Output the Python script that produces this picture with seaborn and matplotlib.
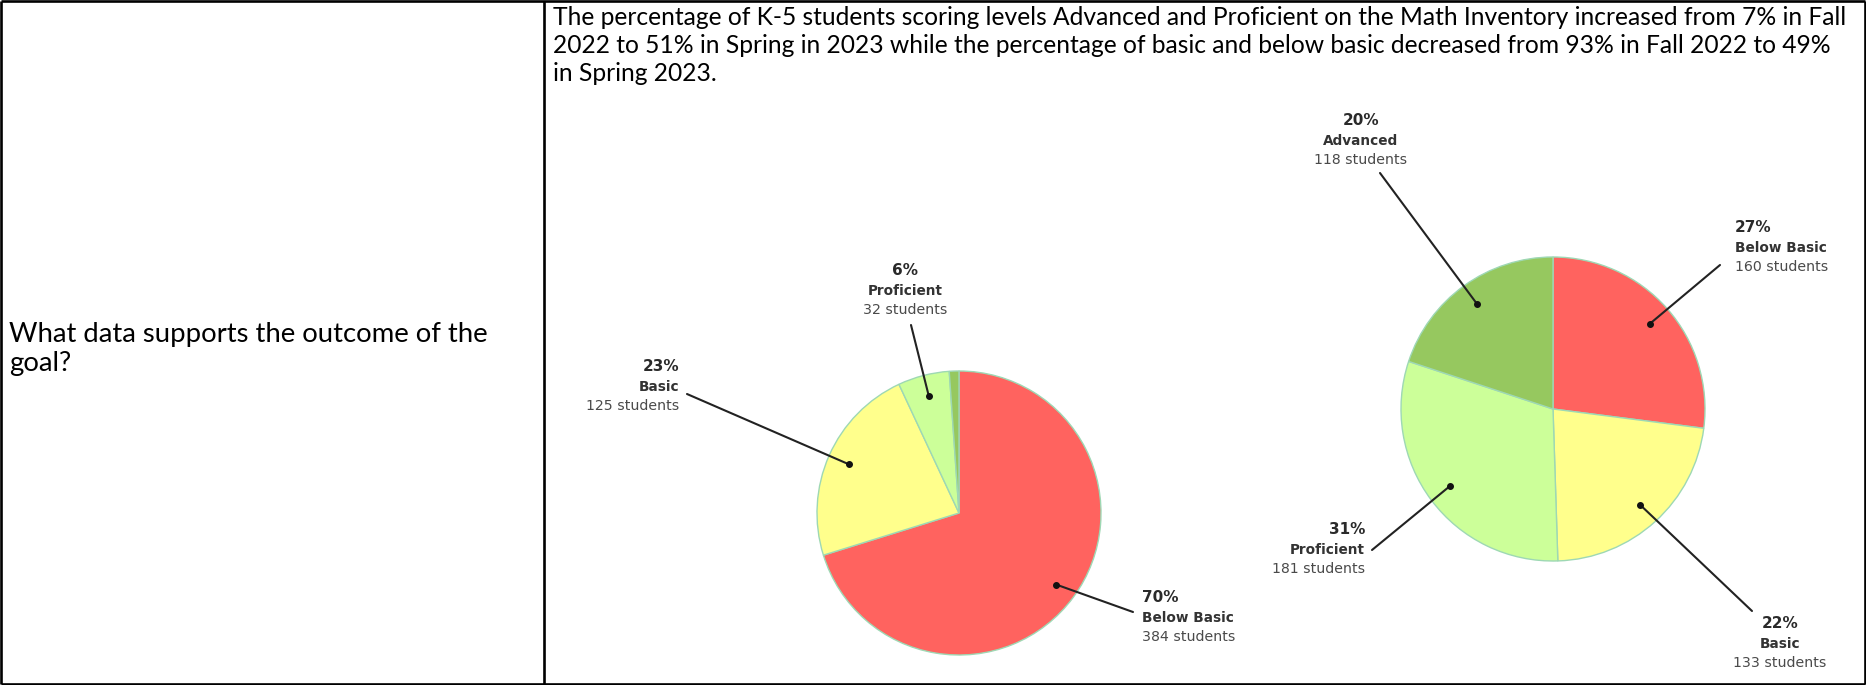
import numpy as np
import matplotlib
matplotlib.use("Agg")
import matplotlib.pyplot as plt
import seaborn as sns
from matplotlib import font_manager

# ---------------- data ----------------
levels = ["Below Basic", "Basic", "Proficient", "Advanced"]
fall_students = [384, 125, 32, 6]
fall_pct = [70, 23, 6, 1]
spring_students = [160, 133, 181, 118]
spring_pct = [27, 22, 31, 20]
level_colors = ["#FF635F", "#FFFF8C", "#CCFF99", "#96C85F"]

question_lines = ["What data supports the outcome of the", "goal?"]
summary_lines = [
    "The percentage of K-5 students scoring levels Advanced and Proficient on the Math Inventory increased from 7% in Fall",
    "2022 to 51% in Spring in 2023 while the percentage of basic and below basic decreased from 93% in Fall 2022 to 49%",
    "in Spring 2023.",
]

# ---------------- layout (pixels, y downward) ----------------
W, H = 1866, 685
fall_geom = dict(cx=959, cy=513, r=142)
spring_geom = dict(cx=1553, cy=409, r=152)
# per level: (text x, first-line y, alignment, leader end x, leader end y) ; None = unlabeled
fall_label_pos = [(1142, 597, "left", 1133, 612),
                  (679, 366, "right", 687, 394),
                  (905, 270, "center", 911, 325),
                  None]
spring_label_pos = [(1735, 227, "left", 1720, 265),
                    (1780, 623, "center", 1752, 611),
                    (1365, 529, "right", 1372, 550),
                    (1361, 120, "center", 1380, 173)]

sns.set_theme(style="white")
plt.rcParams["font.family"] = ["DejaVu Sans"]

names = {f.name for f in font_manager.fontManager.ttflist}
para_font = "Liberation Sans Narrow" if "Liberation Sans Narrow" in names else "Lato"
cell_font = "Lato" if "Lato" in names else "DejaVu Sans"

fig = plt.figure(figsize=(W / 100, H / 100), dpi=100)
fig.patch.set_facecolor("white")


def add_pie(geom, values):
    cx, cy, r = geom["cx"], geom["cy"], geom["r"]
    ax = fig.add_axes([(cx - r) / W, 1 - (cy + r) / H, 2 * r / W, 2 * r / H])
    ax.pie(values, colors=level_colors, startangle=90, counterclock=False,
           wedgeprops=dict(edgecolor="#9ED8B4", linewidth=1.0))
    ax.set_xlim(-1, 1)
    ax.set_ylim(-1, 1)
    ax.axis("off")
    return ax


add_pie(fall_geom, fall_students)
add_pie(spring_geom, spring_students)

ov = fig.add_axes([0, 0, 1, 1])
ov.set_xlim(0, W)
ov.set_ylim(H, 0)
ov.axis("off")
ov.patch.set_alpha(0)
ov.set_zorder(5)

# table borders
lw = 1.9
for xs, ys in [([1, W - 1], [1, 1]), ([1, W - 1], [H - 1.5, H - 1.5]),
               ([1, 1], [1, H - 1]), ([W - 1.5, W - 1.5], [1, H - 1]),
               ([544, 544], [1, H - 1])]:
    ov.plot(xs, ys, color="black", lw=lw, clip_on=False, solid_capstyle="butt")


def annotate_pie(geom, values, pcts, positions):
    cx, cy, r = geom["cx"], geom["cy"], geom["r"]
    total = float(sum(values))
    cum = np.cumsum(values)
    for i, pos in enumerate(positions):
        if pos is None:
            continue
        mid = (cum[i] - values[i] / 2.0) / total * 2 * np.pi
        dx = cx + 0.85 * r * np.sin(mid)
        dy = cy - 0.85 * r * np.cos(mid)
        tx, ty, ha, lx, ly = pos
        ov.plot([dx, lx], [dy, ly], color="#222222", lw=1.5, solid_capstyle="round")
        ov.plot([dx], [dy], "o", color="#111111", ms=4)
        ov.text(tx, ty, f"{pcts[i]}%", ha=ha, va="center", fontsize=11,
                fontweight="bold", color="#2a2a2a")
        ov.text(tx, ty + 20.5, levels[i], ha=ha, va="center", fontsize=9.8,
                fontweight="bold", color="#333333")
        ov.text(tx, ty + 40, f"{values[i]} students", ha=ha, va="center",
                fontsize=10.2, color="#4a4a4a")


annotate_pie(fall_geom, fall_students, fall_pct, fall_label_pos)
annotate_pie(spring_geom, spring_students, spring_pct, spring_label_pos)

# texts
para = []
for k, line in enumerate(summary_lines):
    para.append(ov.text(553, 17 + 28 * k, line, ha="left", va="center",
                        fontsize=14, family=para_font, color="black"))
quest = []
for k, line in enumerate(question_lines):
    quest.append(ov.text(9, 334 + 29 * k, line, ha="left", va="center",
                         fontsize=14, family=cell_font, color="black"))

fig.canvas.draw()
rend = fig.canvas.get_renderer()


def fit(texts, target):
    w = texts[0].get_window_extent(rend).width
    fs = texts[0].get_fontsize() * target / w
    for t in texts:
        t.set_fontsize(fs)


fit(para, 1303)
fit(quest, 480)

fig.savefig("out.png", dpi=100, facecolor="white")
